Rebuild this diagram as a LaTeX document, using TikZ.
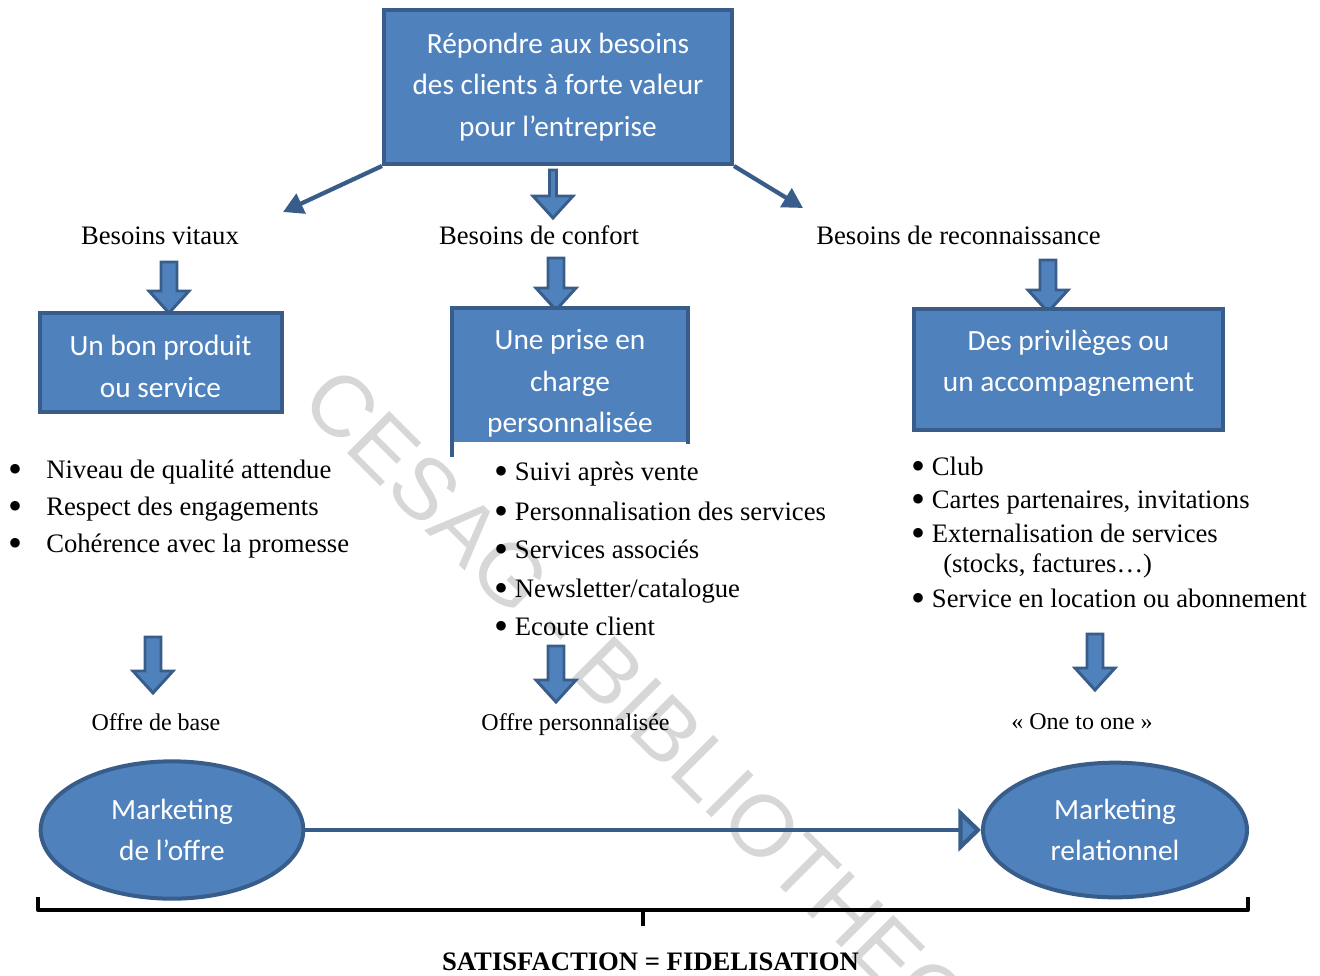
\documentclass[tikz,border=0pt]{standalone}
\usepackage{fontspec}
\setmainfont{Liberation Serif}
\newfontfamily\boxfont{Carlito}
\newfontfamily\markfont{Liberation Sans}
\usetikzlibrary{shapes.geometric,arrows.meta,calc}
\definecolor{boxblue}{RGB}{79,129,189}
\definecolor{boxedge}{RGB}{56,93,138}
\definecolor{markgray}{RGB}{215,215,215}
\newcommand{\bigdot}{\raisebox{-3.4pt}{\scalebox{1.5}{\textbullet}}}

\tikzset{
  pics/blockdown/.style n args={2}{code={
    \draw[line width=2.2pt,draw=boxedge,fill=boxblue] (-#2,0) -- (#2,0) -- (#2,22-#1) -- (20,22-#1) -- (0,-#1) -- (-20,22-#1) -- (-#2,22-#1) -- cycle;
  }}
}

\begin{document}
\begin{tikzpicture}[x=0.75pt,y=0.75pt,yscale=-1,xscale=1,
  bluebox/.style={rectangle,fill=boxblue,draw=boxedge,line width=3pt,inner sep=0pt},
  boxtext/.style={text=white,font=\boxfont\fontsize{22}{31}\selectfont,align=center,inner sep=0pt},
  oval/.style={ellipse,fill=boxblue,draw=boxedge,line width=3pt,inner sep=0pt},
  lbl/.style={font=\fontsize{20}{24}\selectfont,inner sep=0pt,anchor=base},
  smalllbl/.style={font=\fontsize{18}{22}\selectfont,inner sep=0pt,anchor=base},
  item/.style={font=\fontsize{20}{24}\selectfont,inner sep=0pt,anchor=base west},
  flowline/.style={draw=boxedge,line width=3.2pt},
  bracket/.style={draw=black,line width=3pt,line join=round}]
\useasboundingbox (0,0) rectangle (1320,975);

% watermark
\node[font=\markfont\fontsize{65}{65}\selectfont,text=markgray,rotate=-45,inner sep=0pt] (wm) at (675,750) {CESAG - BIBLIOTHEQUE};

% top box
\node[bluebox,boxtext,minimum width=261pt,minimum height=115.5pt] (need) at (558,87) {Répondre aux besoins\\des clients à forte valeur\\pour l’entreprise};

\coordinate (vitarr) at (283,212);
\coordinate (recarr) at (803,208);
\draw[flowline,-{Triangle[length=15pt,width=16pt]}] (need.south west) -- (vitarr);
\draw[flowline,-{Triangle[length=15pt,width=16pt]}] (need.south east) -- (recarr);
\pic at (553,170) {blockdown={48}{3.5}};

% needs
\node[lbl] (bvital) at (160,244) {Besoins vitaux};
\node[lbl] (bconf) at (539,244) {Besoins de confort};
\node[lbl] (breco) at (958.5,244) {Besoins de reconnaissance};

\pic at (169,262) {blockdown={51}{8}};
\pic at (556,258) {blockdown={52}{8}};
\pic at (1048,260) {blockdown={52}{8}};

% answer boxes
\node[bluebox,minimum width=181.5pt,minimum height=74pt] (vital) at (160.5,362.5) {};
\node[boxtext] (vitaltext) at (160.5,366.5) {Un bon produit\\ou service};

\node[bluebox,draw=none,minimum width=174pt,minimum height=99pt] (care) at (570,376) {};
\draw[boxedge,line width=3pt] ($(care.south west)+(0,13)$) -- (care.north west) -- (care.north east) -- (care.south east);
\node[boxtext] (caretext) at (570,383.5) {Une prise en\\charge\\personnalisée};

\node[bluebox,minimum width=232pt,minimum height=91pt] (privil) at (1068.5,369.5) {};
\node[boxtext] (priviltext) at (1068.5,363) {Des privilèges ou\\un accompagnement};

% lists
\foreach \y/\txt [count=\i] in {478/Niveau de qualité attendue,515/Respect des engagements,552/Cohérence avec la promesse}
  \node[item] (va\i) at (8,\y) {\makebox[28.5pt][l]{\bigdot}\txt};

\foreach \y/\txt [count=\i] in {480/Suivi après vente,520/Personnalisation des services,558/Services associés,597/{Newsletter/catalogue},635/Ecoute client}
  \node[item] (co\i) at (494,\y) {\bigdot{} \txt};

\foreach \y/\txt [count=\i] in {475/Club,508/{Cartes partenaires, invitations},542/Externalisation de services,607/Service en location ou abonnement}
  \node[item] (re\i) at (911,\y) {\bigdot{} \txt};
\node[item] (re5) at (943,572) {(stocks, factures…)};

% offers
\pic at (153,637) {blockdown={56}{8}};
\pic at (556,646) {blockdown={56}{8}};
\pic at (1095,634) {blockdown={56}{8}};

\node[smalllbl] (obase) at (156,730) {Offre de base};
\node[smalllbl] (operso) at (575.5,730) {Offre personnalisée};
\node[smalllbl] (oone) at (1082,729) {« One to one »};

% marketing
\node[oval,boxtext,minimum width=197pt,minimum height=103pt] (mkoffer) at (172,830) {Marketing\\de l’offre};
\node[oval,boxtext,minimum width=198pt,minimum height=101pt] (mkrel) at (1115,830) {Marketing\\relationnel};
\draw[flowline,-{Triangle[length=17pt,width=32pt,fill=boxblue]}] (mkoffer) -- (mkrel);

% brace
\draw[bracket] (38,897) -- (38,910) -- (1248,910) -- (1248,897);
\draw[bracket] (643,910) -- (643,926);
\node[lbl,font=\bfseries\fontsize{20}{24}\selectfont] (satis) at (650.5,970) {SATISFACTION = FIDELISATION};

\end{tikzpicture}
\end{document}
